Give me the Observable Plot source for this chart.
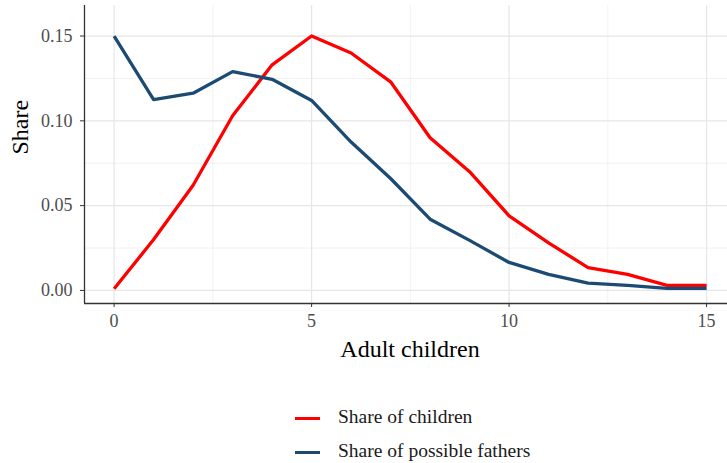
<!DOCTYPE html>
<html>
<head>
<meta charset="utf-8">
<script src="https://cdn.jsdelivr.net/npm/d3@7"></script>
<script src="https://cdn.jsdelivr.net/npm/@observablehq/plot@0.6"></script>
<style>
  body { margin: 0; background: #fff; }
  #wrap { position: relative; width: 727px; height: 463px; font-family: "Liberation Serif", serif; }
  #chart svg, #chart svg text { font-family: "Liberation Serif", serif !important; font-variant: normal !important; }
  #legend { position: absolute; left: 295px; top: 400px; font-size: 19.5px; color: #1a1a1a; }
  .row { height: 34px; line-height: 34px; white-space: nowrap; }
  .key { display: inline-block; width: 25px; height: 3.4px; vertical-align: middle; margin-right: 18px; }
</style>
</head>
<body>
<div id="wrap"><div id="chart"></div><div id="legend"></div></div>
<script>
const adultChildren = [0, 1, 2, 3, 4, 5, 6, 7, 8, 9, 10, 11, 12, 13, 14, 15];
const shareChildren = [0.001, 0.030, 0.062, 0.103, 0.133, 0.150, 0.140, 0.123, 0.090, 0.070, 0.044, 0.028, 0.0135, 0.0095, 0.003, 0.003];
const shareFathers  = [0.150, 0.1125, 0.1163, 0.129, 0.1245, 0.112, 0.0875, 0.066, 0.042, 0.0295, 0.0165, 0.0095, 0.0043, 0.003, 0.0012, 0.0012];
const seriesNames = ["Share of children", "Share of possible fathers"];
const seriesColors = ["#ff0000", "#1b4a72"];
const xTicks = [0, 5, 10, 15];
const xMinor = [2.5, 7.5, 12.5];
const yTicks = [0, 0.05, 0.10, 0.15];
const yMinor = [0.025, 0.075, 0.125];

const data = [];
adultChildren.forEach((k, i) => {
  data.push({x: k, y: shareChildren[i], series: seriesNames[0]});
  data.push({x: k, y: shareFathers[i], series: seriesNames[1]});
});

const xDom = [-0.75, 15.53];
const yDom = [-0.0077, 0.168];

const chart = Plot.plot({
  width: 727,
  height: 372,
  marginLeft: 84,
  marginRight: 0,
  marginTop: 5,
  marginBottom: 69,
  style: {fontFamily: "Liberation Serif, serif", background: "#fff"},
  x: {domain: xDom},
  y: {domain: yDom},
  color: {domain: seriesNames, range: seriesColors},
  marks: [
    Plot.ruleX(xMinor, {stroke: "#ececec", strokeWidth: 0.7}),
    Plot.ruleY(yMinor, {stroke: "#ececec", strokeWidth: 0.7}),
    Plot.ruleX(xTicks, {stroke: "#e6e6e6", strokeWidth: 1.2}),
    Plot.ruleY(yTicks, {stroke: "#e6e6e6", strokeWidth: 1.2}),
    Plot.line(data, {x: "x", y: "y", z: "series", stroke: "series", strokeWidth: 3.3, strokeLinejoin: "round", strokeLinecap: "butt"}),
    Plot.ruleX([xDom[0]], {stroke: "#333", strokeWidth: 1.3}),
    Plot.ruleY([yDom[0]], {stroke: "#333", strokeWidth: 1.3}),
    Plot.axisX(xTicks, {tickSize: 4, tickPadding: 7, fontSize: 18, fill: "#4d4d4d", stroke: "#333", label: null}),
    Plot.axisY(yTicks, {tickSize: 4, tickPadding: 8, fontSize: 18, fill: "#4d4d4d", stroke: "#333", label: null, tickFormat: d => d.toFixed(2)}),
    Plot.text(["Adult children"], {frameAnchor: "bottom", dx: 4, dy: 46, fontSize: 24, fill: "#000", lineAnchor: "middle"}),
    Plot.text(["Share"], {frameAnchor: "left", dx: -64, rotate: -90, fontSize: 24, fill: "#000", lineAnchor: "middle"})
  ]
});
document.getElementById("chart").appendChild(chart);

const legend = document.getElementById("legend");
seriesNames.forEach((name, i) => {
  const row = document.createElement("div");
  row.className = "row";
  const key = document.createElement("span");
  key.className = "key";
  key.style.background = seriesColors[i];
  row.appendChild(key);
  row.appendChild(document.createTextNode(name));
  legend.appendChild(row);
});
</script>
</body>
</html>
